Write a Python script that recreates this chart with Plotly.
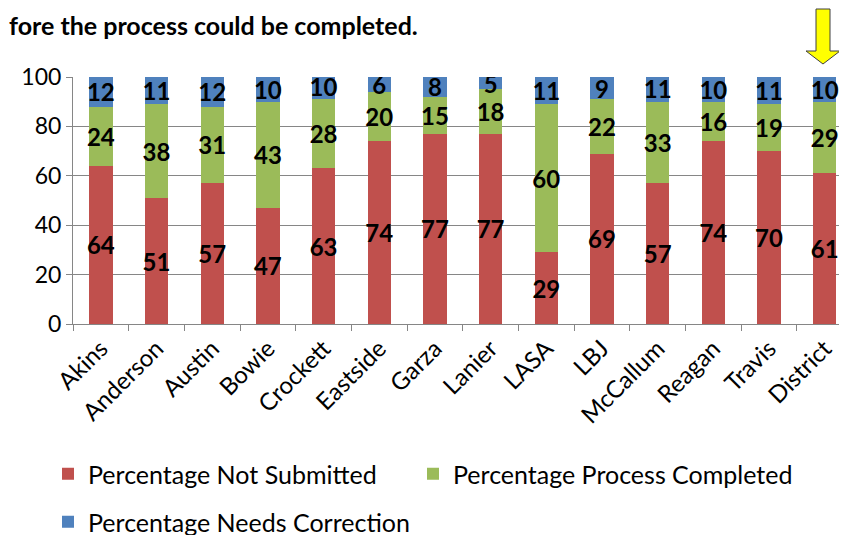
import plotly.graph_objects as go

schools = ["Akins", "Anderson", "Austin", "Bowie", "Crockett", "Eastside", "Garza",
           "Lanier", "LASA", "LBJ", "McCallum", "Reagan", "Travis", "District"]
not_submitted = [64, 51, 57, 47, 63, 74, 77, 77, 29, 69, 57, 74, 70, 61]
process_completed = [24, 38, 31, 43, 28, 20, 15, 18, 60, 22, 33, 16, 19, 29]
needs_correction = [12, 11, 12, 10, 10, 6, 8, 5, 11, 9, 11, 10, 11, 10]

W, H = 847, 535
OFF = 8  # page body margin offset
ML, MT, MB, MR = 73 - OFF, 77 - OFF, 535 - (324 - OFF), OFF
PW = W - ML - MR
PH = H - MT - MB

FONT = "Lato"
label_font = dict(family=FONT, size=24, color="black", weight="bold")

fig = go.Figure()
series = [
    ("Percentage Not Submitted", not_submitted, "#C0504D", "legend"),
    ("Percentage Process Completed", process_completed, "#9BBB59", "legend2"),
    ("Percentage Needs Correction", needs_correction, "#4F81BD", "legend3"),
]
for name, vals, color, lg in series:
    fig.add_trace(go.Bar(
        x=schools, y=vals, name=name, marker=dict(color=color, line=dict(width=0)),
        text=vals, texttemplate="<b>%{text}</b>", textposition="inside",
        insidetextanchor="middle", constraintext="none", textangle=0,
        textfont=label_font, legend=lg,
    ))


def px(x):
    # picture pixel -> paper x
    return (x - OFF - ML) / PW


def py(y):
    # picture pixel -> paper y
    return (H - MB - (y - OFF)) / PH


# yellow arrow (decoration)
pts = [(816, 9), (830, 9), (830, 51), (840, 51), (823, 64), (806, 51), (816, 51)]
path = "M " + " L ".join(f"{px(a):.5f},{py(b):.5f}" for a, b in pts) + " Z"
fig.add_shape(type="path", path=path, xref="paper", yref="paper",
              fillcolor="#FFFF00", line=dict(color="#404040", width=1))

fig.add_annotation(text="<b>fore the process could be completed.</b>",
                   xref="paper", yref="paper", x=px(OFF), y=py(OFF + 1),
                   xanchor="left", yanchor="top", showarrow=False,
                   borderpad=0,
                   font=dict(family=FONT, size=25, color="black"))

legend_font = dict(family=FONT, size=25, color="black")


def legend_box(xpix, ypix):
    return dict(orientation="h", xref="container", yref="container",
                x=(xpix - OFF) / W, y=1 - (ypix - OFF) / H,
                xanchor="left", yanchor="middle",
                font=legend_font, itemwidth=30, bgcolor="rgba(0,0,0,0)")


fig.update_layout(
    width=W, height=H,
    margin=dict(l=ML, r=MR, t=MT, b=MB, pad=0, autoexpand=False),
    barmode="stack", bargap=0.58,
    plot_bgcolor="white", paper_bgcolor="white",
    font=dict(family=FONT, color="black"),
    showlegend=True,
    legend=legend_box(48, 474),
    legend2=legend_box(413, 474),
    legend3=legend_box(48, 522),
    xaxis=dict(type="category", range=[-0.5, 13.4], tickson="boundaries",
               ticks="outside", ticklen=6, tickcolor="#868686",
               showline=True, linecolor="#868686", linewidth=1,
               showgrid=False, tickangle=-45, automargin=False,
               tickfont=dict(family=FONT, size=24, color="black")),
    yaxis=dict(range=[0, 100], dtick=20, ticks="outside", ticklen=6,
               tickcolor="#868686", showline=True, linecolor="#868686",
               showgrid=True, gridcolor="#868686", gridwidth=1,
               zeroline=False, automargin=False,
               tickfont=dict(family=FONT, size=23, color="black")),
)

fig.write_html("out.html")
